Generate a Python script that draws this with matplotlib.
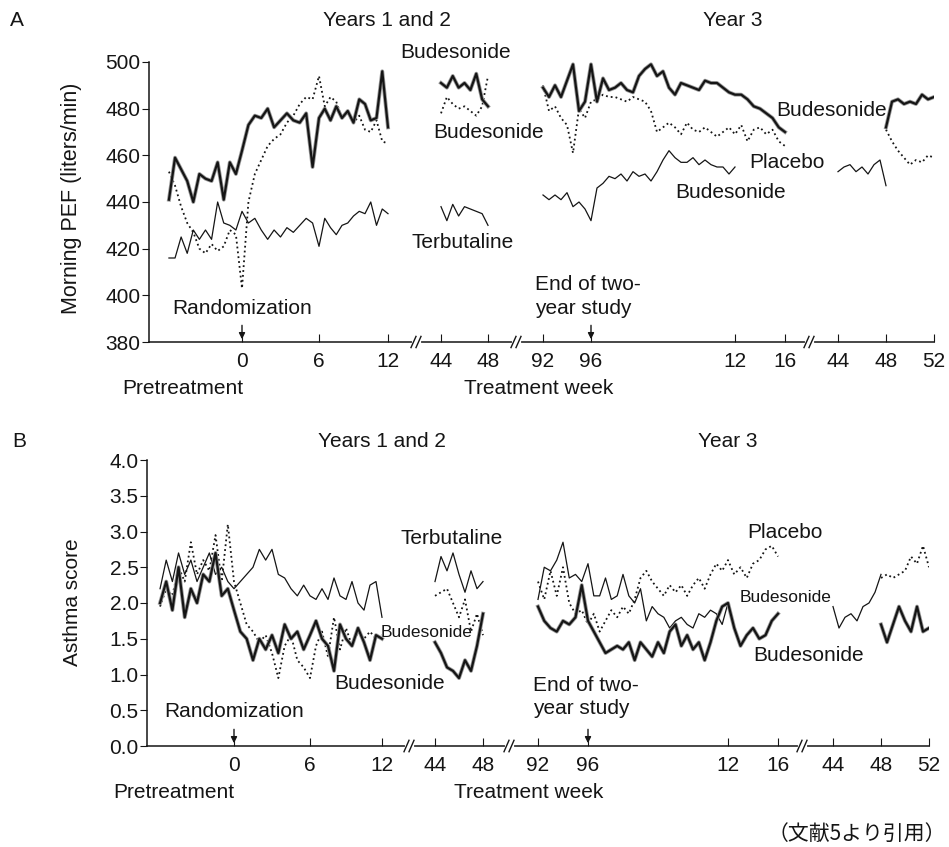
import numpy as np
import matplotlib.pyplot as plt

plt.rcParams['font.family'] = ['Liberation Sans', 'DejaVu Sans']
INK = '#151515'

# ---- sampling weeks (years 1-2 use study weeks; year 3 = weeks 96+ ) ----
wk_y12 = np.arange(-6, 12.01, 0.5)      # pretreatment .. week 12
wk_y2 = np.arange(44, 48.01, 0.5)        # weeks 44-48
wk_y3 = np.arange(92, 112.01, 0.5)       # weeks 92 .. year-3 week 16
wk_y3t = np.arange(92, 108.01, 0.5)      # shorter thin line
wk_e1 = np.arange(140, 144.01, 0.5)      # year-3 weeks 44-48
wk_e2 = np.arange(144, 148.01, 0.5)      # year-3 weeks 48-52

# ---- A: morning PEF ----
a_bud_1 = [441, 459, 454, 449, 440, 452, 450, 449, 457, 441, 457, 452, 462, 473, 477, 476, 480, 472, 475,
           478, 475, 474, 478, 455, 476, 480, 475, 481, 476, 479, 474, 484, 482, 475, 476, 496, 472]
a_ter_1 = [416, 416, 425, 418, 428, 424, 428, 424, 440, 431, 430, 428, 436, 431, 433, 428, 424, 428, 425,
           429, 427, 430, 433, 431, 421, 433, 429, 426, 430, 431, 434, 436, 435, 440, 430, 437, 435]
a_plc_1 = [453, 447, 438, 431, 427, 420, 418, 422, 419, 421, 428, 426, 403, 440, 452, 458, 464, 467, 469,
           474, 477, 482, 485, 484, 494, 481, 485, 483, 476, 478, 474, 477, 471, 470, 475, 466, 465]
a_bud_2 = [491, 489, 494, 489, 491, 488, 495, 484, 481]
a_plc_2 = [478, 485, 482, 480, 481, 479, 477, 481, 494]
a_ter_2 = [438, 432, 439, 434, 438, 437, 436, 435, 430]
a_bud_3 = [489, 485, 490, 485, 492, 499, 479, 483, 499, 483, 493, 488, 489, 491, 488, 487, 494, 497, 499,
           494, 496, 489, 486, 491, 490, 489, 488, 492, 491, 491, 489, 487, 486, 486, 484, 481, 480, 478,
           476, 472, 470]
a_plc_3 = [490, 479, 481, 476, 473, 461, 480, 476, 483, 484, 486, 485, 485, 484, 483, 485, 484, 483, 479,
           470, 472, 474, 472, 469, 474, 471, 470, 472, 470, 468, 470, 472, 469, 473, 466, 471, 472, 469,
           471, 466, 464]
a_ter_3 = [443, 441, 443, 441, 444, 438, 440, 437, 432, 446, 448, 451, 450, 452, 449, 453, 451, 452, 449,
           453, 458, 462, 459, 457, 457, 459, 456, 458, 456, 455, 455, 452, 455]
a_ter_4 = [453, 455, 456, 453, 455, 452, 456, 458, 447]
a_bud_4 = [472, 483, 484, 482, 483, 482, 486, 484, 485]
a_plc_4 = [471, 466, 462, 459, 456, 458, 457, 460, 459]

# ---- B: asthma score ----
b_ter_1 = [2.2, 2.6, 2.3, 2.7, 2.4, 2.6, 2.3, 2.5, 2.7, 2.4, 2.5, 2.3, 2.2, 2.3, 2.4, 2.5, 2.75, 2.6, 2.75,
           2.4, 2.35, 2.2, 2.1, 2.25, 2.1, 2.05, 2.2, 2.05, 2.35, 2.1, 2.05, 2.3, 2.0, 1.9, 2.25, 2.3, 1.8]
b_bud_1 = [2.0, 2.3, 1.9, 2.5, 1.8, 2.2, 2.0, 2.4, 2.3, 2.7, 2.1, 2.2, 1.9, 1.6, 1.5, 1.2, 1.5, 1.35, 1.55,
           1.3, 1.7, 1.5, 1.6, 1.35, 1.55, 1.75, 1.5, 1.4, 1.05, 1.7, 1.5, 1.4, 1.65, 1.45, 1.2, 1.55, 1.5]
b_plc_1 = [1.95, 2.2, 2.1, 2.5, 2.3, 2.85, 2.4, 2.6, 2.45, 2.95, 2.3, 3.1, 2.3, 2.0, 1.7, 1.6, 1.45, 1.55,
           1.3, 0.95, 1.4, 1.55, 1.2, 1.1, 0.95, 1.4, 1.6, 1.25, 1.8, 1.35, 1.65, 1.4, 1.6, 1.5, 1.6, 1.5, 1.55]
b_ter_2 = [2.3, 2.65, 2.45, 2.7, 2.4, 2.15, 2.45, 2.2, 2.3]
b_plc_2 = [2.1, 2.15, 2.2, 2.0, 1.8, 2.05, 1.6, 1.85, 1.55]
b_bud_2 = [1.45, 1.3, 1.1, 1.05, 0.95, 1.2, 1.05, 1.4, 1.85]
b_ter_3 = [2.05, 2.5, 2.45, 2.6, 2.85, 2.35, 2.4, 2.3, 2.55, 2.1, 2.1, 2.35, 2.05, 2.1, 2.4, 2.1, 2.0, 2.2,
           1.75, 1.95, 1.85, 1.8, 1.65, 1.75, 1.8, 1.7, 1.65, 1.85, 1.8, 1.9, 1.85, 1.7, 2.0]
b_bud_3 = [1.95, 1.75, 1.65, 1.6, 1.75, 1.7, 1.8, 2.25, 1.75, 1.6, 1.45, 1.3, 1.35, 1.4, 1.35, 1.45, 1.2,
           1.45, 1.35, 1.25, 1.45, 1.3, 1.6, 1.7, 1.4, 1.55, 1.35, 1.45, 1.2, 1.45, 1.75, 1.95, 2.0, 1.65,
           1.4, 1.55, 1.65, 1.5, 1.55, 1.75, 1.85]
b_plc_3 = [2.3, 2.05, 2.45, 2.1, 2.5, 2.0, 1.85, 1.9, 1.7, 1.85, 1.6, 1.75, 1.9, 1.8, 1.95, 1.85, 2.05, 2.35,
           2.45, 2.3, 2.2, 2.1, 2.25, 2.15, 2.25, 2.1, 2.25, 2.35, 2.2, 2.4, 2.55, 2.45, 2.6, 2.4, 2.5, 2.35,
           2.55, 2.6, 2.75, 2.8, 2.65]
b_ter_4 = [1.95, 1.65, 1.8, 1.85, 1.75, 1.95, 2.0, 2.15, 2.4]
b_plc_4 = [2.35, 2.4, 2.35, 2.4, 2.45, 2.65, 2.55, 2.8, 2.5]
b_bud_4 = [1.7, 1.45, 1.7, 1.95, 1.75, 1.6, 1.95, 1.6, 1.65]

# ---- broken time axis ----
anchor_wk = [-8, 0, 6, 12, 44, 48, 92, 96, 108, 112, 140, 144, 148]
tick_wk = [0, 6, 12, 44, 48, 92, 96, 108, 112, 140, 144, 148]
tick_lbl = ['0', '6', '12', '44', '48', '92', '96', '12', '16', '44', '48', '52']

W, H = 949, 847
fig = plt.figure(figsize=(W / 100, H / 100), dpi=100)


def px_box(l, r, t, b):
    return [l / W, 1 - b / H, (r - l) / W, (b - t) / H]


def ftxt(x, y, s, ha='center', **kw):
    kw.setdefault('size', 15)
    fig.text(x / W, 1 - y / H, s, ha=ha, va='center', color=INK, **kw)


def panel(box, anchor_px, xlim, ylim, yticks, yfmt, breaks, series):
    ax = fig.add_axes(box)
    for wk, vals, kind in series:
        x = np.interp(wk, anchor_wk, anchor_px)
        if kind == 'thick':
            ax.plot(x, vals, color='0.6', lw=2.8, solid_joinstyle='round')
            ax.plot(x, vals, color=INK, lw=1.6)
        elif kind == 'thin':
            ax.plot(x, vals, color=INK, lw=0.9)
        else:
            ax.plot(x, vals, color=INK, lw=1.3, ls=(0, (1, 1.7)))
    ax.set_xlim(*xlim)
    ax.set_ylim(*ylim)
    ax.set_yticks(yticks)
    ax.set_yticklabels([yfmt.format(v) for v in yticks])
    ax.set_xticks(np.interp(tick_wk, anchor_wk, anchor_px))
    ax.set_xticklabels(tick_lbl)
    for s in ('top', 'right'):
        ax.spines[s].set_visible(False)
    for s in ('left', 'bottom'):
        ax.spines[s].set_linewidth(1.1)
        ax.spines[s].set_color(INK)
    ax.tick_params(axis='x', direction='in', length=6, pad=7, labelsize=15, colors=INK)
    ax.tick_params(axis='y', direction='out', length=5, pad=1, labelsize=15, colors=INK)
    tr = ax.get_xaxis_transform()
    for xb in breaks:
        ax.plot([xb - 3, xb + 2], [0, 0], color='white', lw=3, transform=tr, clip_on=False, zorder=5)
        for dx in (-3, 2):
            ax.plot([xb + dx - 3, xb + dx + 2], [-0.02, 0.02], color=INK, lw=1,
                    transform=tr, clip_on=False, zorder=6)
    return ax


# ---------------- A ----------------
pos_a = [144.6, 242, 319, 388, 441, 488, 543, 591, 735, 785, 838, 886, 934]
ax1 = panel(px_box(149, 934, 62, 342), pos_a, (149, 934), (380, 500), list(range(380, 501, 20)), '{:d}',
            [417, 517, 810],
            [(wk_y12, a_ter_1, 'thin'), (wk_y12, a_plc_1, 'dot'), (wk_y12, a_bud_1, 'thick'),
             (wk_y2, a_ter_2, 'thin'), (wk_y2, a_plc_2, 'dot'), (wk_y2, a_bud_2, 'thick'),
             (wk_y3t, a_ter_3, 'thin'), (wk_y3, a_plc_3, 'dot'), (wk_y3, a_bud_3, 'thick'),
             (wk_e1, a_ter_4, 'thin'), (wk_e2, a_plc_4, 'dot'), (wk_e2, a_bud_4, 'thick')])
for w in (0, 96):
    x0 = np.interp(w, anchor_wk, pos_a)
    ax1.annotate('', xy=(x0, 380), xytext=(0, 14), textcoords='offset points',
                 arrowprops=dict(arrowstyle='-|>', color=INK, lw=1, mutation_scale=9))

ftxt(10, 20, 'A', ha='left')
ftxt(387, 21, 'Years 1 and 2')
ftxt(733, 21, 'Year 3')
ftxt(456, 53, 'Budesonide')
ftxt(489, 133, 'Budesonide')
ftxt(463, 243, 'Terbutaline')
ftxt(832, 110, 'Budesonide')
ftxt(787, 163, 'Placebo')
ftxt(731, 192, 'Budesonide')
ftxt(242, 308, 'Randomization')
ftxt(535, 285, 'End of two-', ha='left')
ftxt(535, 308, 'year study', ha='left')
ftxt(183, 388, 'Pretreatment')
ftxt(539, 388, 'Treatment week')
ftxt(72, 198, 'Morning PEF (liters/min)', rotation=90, size=15.5)

# ---------------- B ----------------
pos_b = [135.4, 234, 310, 382, 435, 483, 538, 588, 728, 778, 833, 881, 929]
ax2 = panel(px_box(147, 929, 460, 746), pos_b, (147, 929), (0, 4), [i * 0.5 for i in range(9)], '{:.1f}',
            [410, 510, 803],
            [(wk_y12, b_ter_1, 'thin'), (wk_y12, b_plc_1, 'dot'), (wk_y12, b_bud_1, 'thick'),
             (wk_y2, b_ter_2, 'thin'), (wk_y2, b_plc_2, 'dot'), (wk_y2, b_bud_2, 'thick'),
             (wk_y3t, b_ter_3, 'thin'), (wk_y3, b_plc_3, 'dot'), (wk_y3, b_bud_3, 'thick'),
             (wk_e1, b_ter_4, 'thin'), (wk_e2, b_plc_4, 'dot'), (wk_e2, b_bud_4, 'thick')])
for w in (0, 96):
    x0 = np.interp(w, anchor_wk, pos_b)
    ax2.annotate('', xy=(x0, 0), xytext=(0, 14), textcoords='offset points',
                 arrowprops=dict(arrowstyle='-|>', color=INK, lw=1, mutation_scale=9))

ftxt(12, 441, 'B', ha='left')
ftxt(382, 441, 'Years 1 and 2')
ftxt(728, 441, 'Year 3')
ftxt(452, 538, 'Terbutaline')
ftxt(427, 632, 'Budesonide', size=12.5)
ftxt(390, 683, 'Budesonide')
ftxt(785, 533, 'Placebo')
ftxt(786, 597, 'Budesonide', size=12.5)
ftxt(809, 655, 'Budesonide')
ftxt(234, 711, 'Randomization')
ftxt(533, 685, 'End of two-', ha='left')
ftxt(533, 709, 'year study', ha='left')
ftxt(174, 792, 'Pretreatment')
ftxt(529, 792, 'Treatment week')
ftxt(72, 602, 'Asthma score', rotation=90, size=15)

ftxt(946, 834, '（文献5より引用）', ha='right', size=15, family=['Noto Sans CJK JP', 'DejaVu Sans'])

fig.savefig('out.png', dpi=100)
